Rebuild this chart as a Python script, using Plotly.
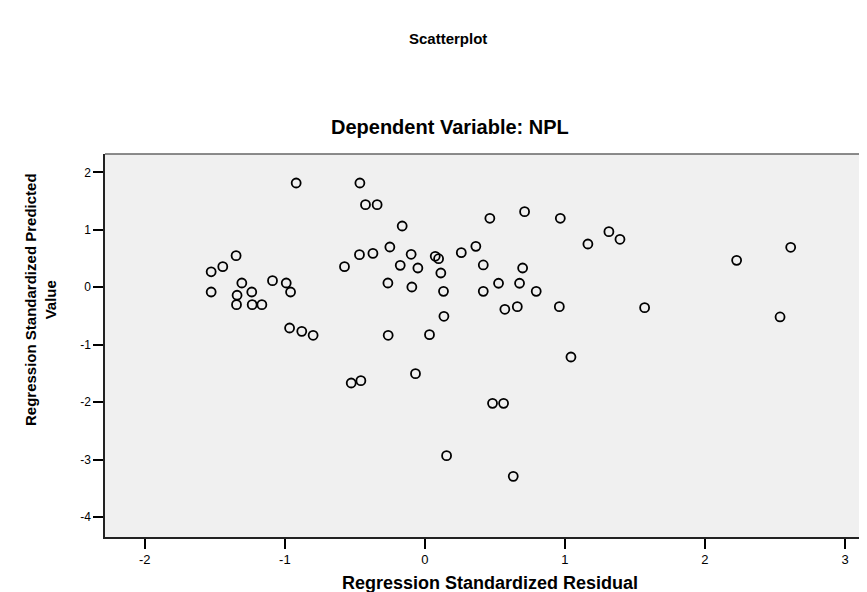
import plotly.graph_objects as go

# Regression Standardized Residual (x) and Regression Standardized Predicted Value (y)
residual = [-1.526, -1.443, -1.348, -1.526, -1.307, -1.341, -1.345,
            -1.236, -1.233, -1.164, -1.088, -0.990, -0.959, -0.966, -0.879, -0.798,
            -0.919, -0.464, -0.424, -0.341, -0.162,
            -0.574, -0.467, -0.371, -0.250, -0.098, 0.074, 0.098,
            -0.176, -0.050, 0.114, -0.264, -0.093, 0.133, 0.136,
            -0.262, 0.033,
            0.464, 0.712, 0.967, 1.314, 1.393, 1.164,
            0.260, 0.364, 0.417, 0.698, 0.417, 0.526, 0.676, 0.795,
            0.571, 0.660, 0.960, 1.569,
            2.612, 2.226, 2.536,
            -0.526, -0.457, -0.067, 0.155,
            1.043, 0.483, 0.562, 0.631]
predicted = [0.270, 0.359, 0.551, -0.082, 0.075, -0.139, -0.303,
             -0.082, -0.303, -0.303, 0.115, 0.075, -0.082, -0.709, -0.767, -0.836,
             1.817, 1.817, 1.439, 1.439, 1.068,
             0.359, 0.568, 0.592, 0.702, 0.575, 0.540, 0.498,
             0.383, 0.336, 0.249, 0.075, 0.005, -0.070, -0.505,
             -0.836, -0.825,
             1.202, 1.317, 1.202, 0.969, 0.836, 0.754,
             0.603, 0.714, 0.389, 0.336, -0.070, 0.070, 0.070, -0.070,
             -0.383, -0.338, -0.338, -0.355,
             0.697, 0.470, -0.517,
             -1.667, -1.627, -1.505, -2.933,
             -1.214, -2.021, -2.021, -3.293]

x_ticks = [-2, -1, 0, 1, 2, 3]
y_ticks = [-4, -3, -2, -1, 0, 1, 2]

W, H = 867, 592
L, R, T, B = 97, 0, 146, 63
PW, PH = W - L - R, H - T - B

def px(x):
    return (x - L) / PW

def py(y):
    return (H - B - y) / PH

FONT = "Liberation Sans, Arial, sans-serif"

fig = go.Figure(go.Scatter(
    x=residual, y=predicted, mode="markers",
    marker=dict(symbol="circle-open", size=9, color="black", line=dict(width=1.8, color="black")),
    hoverinfo="skip", showlegend=False,
))

fig.update_layout(
    width=W, height=H,
    margin=dict(l=L, r=R, t=T, b=B, pad=0),
    paper_bgcolor="white", plot_bgcolor="#f0f0f0",
    font=dict(family=FONT, color="black"),
    xaxis=dict(range=[-2.284, 3.214], tickvals=x_ticks, ticktext=[str(v) for v in x_ticks],
               ticks="outside", ticklen=10, tickwidth=1.5, tickcolor="black",
               showline=True, linecolor="#222", linewidth=1.5, mirror=False,
               showgrid=False, zeroline=False, tickfont=dict(size=13), fixedrange=True),
    yaxis=dict(range=[-4.35, 2.322], tickvals=y_ticks, ticktext=[str(v) for v in y_ticks],
               ticks="outside", ticklen=10, tickwidth=1.5, tickcolor="black",
               showline=True, linecolor="#222", linewidth=1.5, mirror=False,
               showgrid=False, zeroline=False, tickfont=dict(size=12), fixedrange=True),
    shapes=[dict(type="line", xref="paper", yref="paper", x0=0, x1=1, y0=1, y1=1,
                 line=dict(color="#666", width=1.5))],
    annotations=[
        dict(text="<b>Scatterplot</b>", xref="paper", yref="paper", x=px(440), y=py(30),
             showarrow=False, font=dict(size=15), xanchor="center", yanchor="middle"),
        dict(text="<b>Dependent Variable: NPL</b>", xref="paper", yref="paper", x=px(442), y=py(119),
             showarrow=False, font=dict(size=20), xanchor="center", yanchor="middle"),
        dict(text="<b>Regression Standardized Residual</b>", xref="paper", yref="paper", x=px(482), y=py(575),
             showarrow=False, font=dict(size=18), xanchor="center", yanchor="middle"),
        dict(text="<b>Regression Standardized Predicted<br>Value</b>", xref="paper", yref="paper",
             x=px(32), y=py(292), textangle=-90,
             showarrow=False, font=dict(size=15), xanchor="center", yanchor="middle"),
    ],
)

fig.write_html("out.html")
